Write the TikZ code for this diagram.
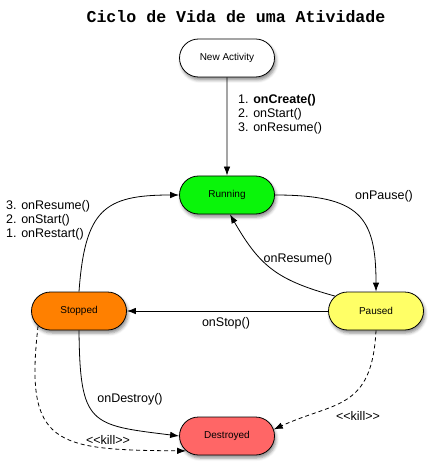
\documentclass[tikz,border=0pt]{standalone}
\usepackage{fontspec}
\setmainfont{Liberation Sans}
\newfontfamily\titlefont{Liberation Mono}
\usetikzlibrary{shapes.misc,arrows.meta,shadows.blur}
\definecolor{runc}{RGB}{10,245,10}
\definecolor{pauc}{RGB}{255,255,102}
\definecolor{stopc}{RGB}{255,128,0}
\definecolor{desc}{RGB}{255,102,102}
\begin{document}
\begin{tikzpicture}[x=1pt,y=1pt,
  state/.style={rounded rectangle, draw=black, line width=0.8pt,
    minimum width=95pt, minimum height=38pt, inner sep=0pt,
    font=\fontsize{10}{12}\selectfont,
    blur shadow={shadow xshift=1.5pt, shadow yshift=-3pt, shadow blur radius=3pt, shadow opacity=45}},
  lbl/.style={font=\fontsize{12.5}{14}\selectfont, inner sep=0pt, align=left},
  arr/.style={line width=0.8pt, -{Latex[length=9pt,width=6.5pt]}},
  dsh/.style={arr, dash pattern=on 4pt off 3pt}]
\useasboundingbox (0,0) rectangle (434,-470);
\node[font=\titlefont\bfseries\fontsize{16.6}{20}\selectfont, inner sep=0pt] (title) at (236,-17) {Ciclo de Vida de uma Atividade};

\node[state, fill=white] (new) at (227,-58) {New Activity};
\node[state, fill=runc] (run) at (227,-195) {Running};
\node[state, fill=pauc] (pau) at (376,-311) {Paused};
\node[state, fill=stopc] (stop) at (79,-311) {Stopped};
\node[state, fill=desc] (des) at (227,-436) {Destroyed};

\draw[arr] (new) -- (run);
\draw[arr] (run.east) .. controls +(85,0) and +(0,75) .. (pau.north);
\draw[arr] (pau.160) .. controls +(-58,16) and +(30,-52) .. ([xshift=3pt]run.south);
\draw[arr] (pau.west) -- (stop.east);
\draw[arr] (stop.north) .. controls +(6,82) and +(-75,0) .. (run.west);
\draw[arr] (stop.south) .. controls +(1,-95) and +(-89,11) .. (des.west);
\draw[dsh] (stop.200) .. controls +(-14,-120) and +(-131,1) .. (des.200);
\draw[dsh] (pau.south) .. controls +(-4,-80) and +(61,28) .. (des.8);

\node[lbl, anchor=west] (l1) at (238,-114) {1. \textbf{onCreate()}\\2. onStart()\\3. onResume()};
\node[lbl, anchor=west] (l2) at (6,-220) {3. onResume()\\2. onStart()\\1. onRestart()};
\node[lbl] (l3) at (384,-196) {onPause()};
\node[lbl] (l4) at (298,-259) {onResume()};
\node[lbl] (l5) at (226,-323) {onStop()};
\node[lbl] (l6) at (130,-399) {onDestroy()};
\node[lbl] (l7) at (108,-440) {{<}{<}kill{>}{>}};
\node[lbl] (l8) at (358,-416) {{<}{<}kill{>}{>}};
\end{tikzpicture}
\end{document}
